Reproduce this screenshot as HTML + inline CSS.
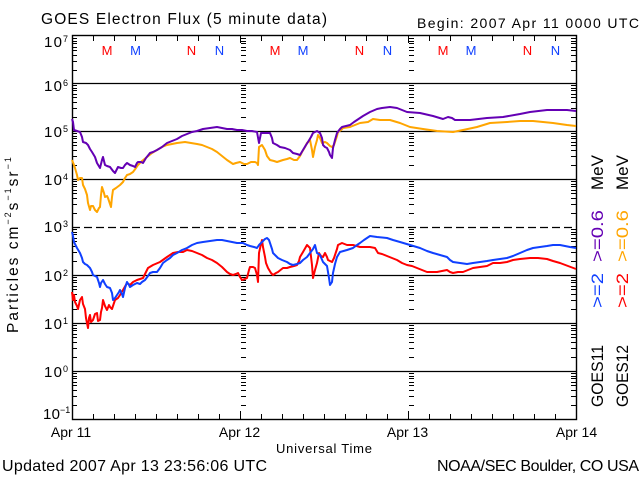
<!DOCTYPE html>
<html><head><meta charset="utf-8"><style>html,body{margin:0;padding:0;background:#fff;}svg{display:block;}</style></head>
<body>
<svg width="640" height="480" viewBox="0 0 640 480" xmlns="http://www.w3.org/2000/svg" xmlns:xlink="http://www.w3.org/1999/xlink" font-family="'Liberation Sans', sans-serif">
<defs>
<path id="dec" d="M0 2.5h5M0 5.5h5M0 7.5h5M0 11.5h5M0 14.5h5M0 19.5h5M0 25.5h5M0 34.5h5" stroke="#000" stroke-width="1"/>
<g id="col">
<use xlink:href="#dec" y="36"/><use xlink:href="#dec" y="83"/><use xlink:href="#dec" y="131"/><use xlink:href="#dec" y="179"/>
<use xlink:href="#dec" y="227"/><use xlink:href="#dec" y="275"/><use xlink:href="#dec" y="323"/><use xlink:href="#dec" y="371"/>
</g>
</defs>
<rect width="640" height="480" fill="#fff"/>

<text x="41" y="24" font-size="15.5" textLength="286">GOES Electron Flux (5 minute data)</text>
<text x="417" y="28" font-size="14" textLength="222">Begin: 2007 Apr 11 0000 UTC</text>

<g stroke="#000" stroke-width="1.2" fill="none">
<path d="M72 83.5H576M72 131.5H576M72 179.5H576M72 275.5H576M72 323.5H576M72 371.5H576"/>
<path d="M72 227.5H576" stroke-dasharray="8,4"/>
<rect x="72.5" y="35.5" width="504" height="384" stroke-width="1.4"/>
<path d="M93.5 36v5M114.5 36v5M135.5 36v5M156.5 36v5M177.5 36v5M198.5 36v5M219.5 36v5M240.5 36v7M261.5 36v5M282.5 36v5M303.5 36v5M324.5 36v5M345.5 36v5M366.5 36v5M387.5 36v5M408.5 36v7M429.5 36v5M450.5 36v5M471.5 36v5M492.5 36v5M513.5 36v5M534.5 36v5M555.5 36v5" stroke-width="1"/>
<path d="M93.5 419v-5M114.5 419v-5M135.5 419v-5M156.5 419v-5M177.5 419v-5M198.5 419v-5M219.5 419v-5M240.5 419v-8M261.5 419v-5M282.5 419v-5M303.5 419v-5M324.5 419v-5M345.5 419v-5M366.5 419v-5M387.5 419v-5M408.5 419v-8M429.5 419v-5M450.5 419v-5M471.5 419v-5M492.5 419v-5M513.5 419v-5M534.5 419v-5M555.5 419v-5" stroke-width="1"/>
</g>
<use xlink:href="#col" x="72"/>
<use xlink:href="#col" x="571"/>
<use xlink:href="#col" x="241"/>
<use xlink:href="#col" x="409"/>

<g font-size="13" text-anchor="middle">
<text x="107" y="55" fill="#ff0000">M</text><text x="135.5" y="55" fill="#1040ff">M</text>
<text x="191.5" y="55" fill="#ff0000">N</text><text x="219.5" y="55" fill="#1040ff">N</text>
<text x="275" y="55" fill="#ff0000">M</text><text x="303" y="55" fill="#1040ff">M</text>
<text x="359.5" y="55" fill="#ff0000">N</text><text x="387.5" y="55" fill="#1040ff">N</text>
<text x="443" y="55" fill="#ff0000">M</text><text x="471" y="55" fill="#1040ff">M</text>
<text x="527.5" y="55" fill="#ff0000">N</text><text x="555.5" y="55" fill="#1040ff">N</text>
</g>

<g font-size="15">
<text x="44" y="47" textLength="18">10</text><text x="63" y="42" font-size="9">7</text>
<text x="44" y="91" textLength="18">10</text><text x="63" y="86" font-size="9">6</text>
<text x="44" y="137" textLength="18">10</text><text x="63" y="132" font-size="9">5</text>
<text x="44" y="185" textLength="18">10</text><text x="63" y="180" font-size="9">4</text>
<text x="44" y="232" textLength="18">10</text><text x="63" y="227" font-size="9">3</text>
<text x="44" y="281" textLength="18">10</text><text x="63" y="276" font-size="9">2</text>
<text x="44" y="329" textLength="18">10</text><text x="63" y="324" font-size="9">1</text>
<text x="44" y="377" textLength="18">10</text><text x="63" y="372" font-size="9">0</text>
<text x="43" y="419" textLength="17">10</text><text x="60" y="413" font-size="9">−1</text>
</g>

<text transform="translate(18,333) rotate(-90)" font-size="15.5" letter-spacing="2">Particles cm<tspan dy="-7" font-size="9">−2</tspan><tspan dy="7">s</tspan><tspan dy="-7" font-size="9">−1</tspan><tspan dy="7">sr</tspan><tspan dy="-7" font-size="9">−1</tspan></text>

<g font-size="14" text-anchor="middle">
<text x="71" y="437">Apr 11</text>
<text x="239.5" y="437">Apr 12</text>
<text x="407.5" y="437">Apr 13</text>
<text x="576.5" y="437">Apr 14</text>
</g>
<text x="276" y="453" font-size="13" textLength="96">Universal Time</text>

<text x="2" y="471" font-size="16" textLength="265">Updated 2007 Apr 13 23:56:06 UTC</text>
<text x="437" y="471" font-size="16" textLength="202">NOAA/SEC Boulder, CO USA</text>

<g transform="translate(603,407) rotate(-90)" font-size="17">
<text x="0" y="0" textLength="62" lengthAdjust="spacingAndGlyphs">GOES11</text>
<text x="99" y="0" textLength="35" lengthAdjust="spacingAndGlyphs" fill="#1040ff">&gt;=2</text>
<text x="145" y="0" textLength="52" lengthAdjust="spacingAndGlyphs" fill="#6400b4">&gt;=0.6</text>
<text x="217" y="0" textLength="35" lengthAdjust="spacingAndGlyphs">MeV</text>
</g>
<g transform="translate(628,407) rotate(-90)" font-size="17">
<text x="0" y="0" textLength="62" lengthAdjust="spacingAndGlyphs">GOES12</text>
<text x="99" y="0" textLength="35" lengthAdjust="spacingAndGlyphs" fill="#ff0000">&gt;=2</text>
<text x="145" y="0" textLength="52" lengthAdjust="spacingAndGlyphs" fill="#ffa500">&gt;=0.6</text>
<text x="217" y="0" textLength="35" lengthAdjust="spacingAndGlyphs">MeV</text>
</g>

<g fill="none" stroke-width="2" stroke-linejoin="round">
<polyline stroke="#ffa500" points="72,160 74,165 75,168 77,175 78,180 80,178 82,178 83,185 85,189 87,195 88,203 90,210 91,206 93,206 95,210 97,212 99,208 100,207 101,195 102,187 104,193 105,197 107,196 108,198 110,204 111,207 112,197 113,190 116,188 120,185 123,182 125,178 127,175 130,174 133,172 136,168 138,165 142,161 147,157 152,153 157,150 162,147 167,145 172,144 177,143 185,142 191,143 197,144 202,145 207,147 212,149 217,152 222,156 227,160 230,162 233,164 236,163 240,162 244,164 247,164 251,162 255,162 257,163 258,165 259,147 262,145 265,150 267,156 270,160 274,161 277,162 280,161 283,160 287,159 290,158 294,160 297,160 300,156 302,152 305,147 307,143 310,140 312,150 313,157 315,147 317,140 318,135 320,138 322,143 325,142 327,143 330,146 332,147 334,145 335,142 337,136 338,132 341,130 343,128 350,127 355,125 360,123 368,122 373,119 380,120 390,120 400,123 410,127 423,129 437,131 453,132 463,130 477,127 490,123 507,122 520,121 533,121 553,123 567,125 576,126"/>
<polyline stroke="#6400b4" points="72,119 73,122 74,130 77,131 80,132 82,137 83,142 86,143 88,145 90,149 92,152 95,157 97,163 100,168 102,160 103,157 105,165 107,166 110,167 113,171 115,173 117,169 118,167 121,168 123,168 125,165 127,163 130,165 133,166 135,167 137,163 138,162 141,162 143,163 146,158 150,153 153,152 157,150 162,147 167,143 172,141 177,139 182,136 187,134 192,132 197,131 203,129 210,128 217,127 222,128 227,129 232,129 237,130 242,130 247,131 252,131 257,132 259,143 261,133 265,133 270,133 272,138 273,143 277,145 280,147 285,148 290,150 293,153 297,154 300,155 303,150 306,145 308,142 311,137 313,133 317,131 320,133 322,138 323,145 325,147 327,148 329,152 330,155 332,158 333,148 335,140 337,133 340,129 342,127 346,126 350,125 354,122 357,120 363,116 370,112 377,109 382,108 390,107 397,108 402,110 407,112 420,113 433,116 443,119 448,117 452,118 455,120 470,120 487,118 503,117 520,114 530,112 547,110 567,110 576,111"/>
<polyline stroke="#ff0000" points="72,292 73,300 74,295 75,302 77,306 78,309 80,300 82,297 83,304 85,309 86,318 88,328 89,318 90,315 91,322 93,320 95,314 97,313 98,321 100,320 101,312 102,308 103,300 105,306 107,310 109,305 110,307 112,309 113,306 115,300 118,298 120,295 123,290 127,283 130,285 133,282 137,280 140,279 143,278 146,272 148,268 153,265 160,262 167,257 173,253 178,252 183,252 187,250 192,251 197,253 202,255 207,258 212,260 217,263 222,267 227,272 230,274 233,275 236,274 238,273 240,277 242,280 245,279 247,278 249,270 250,267 253,267 255,268 257,275 258,282 259,253 261,244 262,240 263,247 265,257 266,263 268,268 271,273 273,275 276,273 278,272 283,268 287,268 290,267 294,266 297,265 299,261 300,257 303,252 307,245 310,248 312,265 313,278 315,270 317,263 319,253 321,256 323,257 325,253 327,257 328,260 330,261 332,262 334,258 335,255 337,249 338,245 342,243 347,245 353,245 360,247 365,247 370,247 375,248 378,253 382,254 387,256 392,258 397,260 402,263 407,265 412,266 417,268 422,270 427,272 432,272 437,272 442,271 447,270 450,272 453,273 458,272 463,272 468,270 473,268 480,267 487,266 493,263 500,263 507,262 513,260 520,259 530,258 538,258 547,259 553,261 560,263 568,266 576,269"/>
<polyline stroke="#1040ff" points="72,232 73,236 74,242 76,246 77,248 80,253 82,258 83,262 85,264 87,265 90,268 92,272 93,275 95,276 97,277 99,283 100,287 101,283 103,280 105,284 107,287 110,288 112,293 113,300 115,298 117,295 119,292 120,290 122,294 123,297 125,288 127,282 129,285 130,287 133,285 137,283 140,284 142,282 145,280 148,276 150,273 153,272 157,272 160,268 163,263 167,260 170,258 173,255 177,253 182,250 187,248 192,245 197,243 203,242 210,241 217,240 222,240 227,241 232,242 237,243 243,243 247,245 250,246 254,247 257,248 259,245 262,242 265,239 267,238 269,240 270,243 272,249 273,253 276,256 278,258 282,260 287,262 290,264 293,265 297,264 300,263 303,260 307,257 310,253 313,249 315,245 317,253 320,255 323,262 325,264 327,266 329,278 330,285 332,282 333,273 335,264 337,257 340,252 347,250 353,248 357,245 360,243 364,240 367,238 370,236 377,237 387,238 393,240 400,242 410,245 420,248 427,251 433,253 440,255 447,257 450,260 453,262 460,263 467,264 473,263 480,262 487,261 493,260 500,259 507,258 513,256 520,253 527,250 533,248 540,247 547,246 553,245 560,245 565,246 570,247 576,248"/>
</g>
</svg>
</body></html>
